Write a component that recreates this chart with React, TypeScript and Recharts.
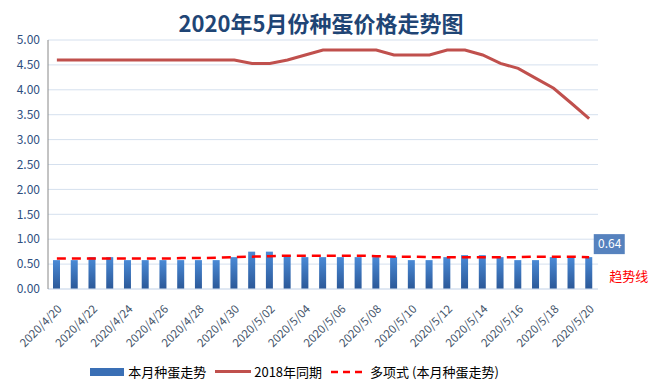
import {
  ComposedChart, Bar, Line, XAxis, YAxis, CartesianGrid, Legend, LabelList,
} from 'recharts'

const dates = [
  '2020/4/20', '2020/4/21', '2020/4/22', '2020/4/23', '2020/4/24', '2020/4/25', '2020/4/26',
  '2020/4/27', '2020/4/28', '2020/4/29', '2020/4/30', '2020/5/01', '2020/5/02', '2020/5/03',
  '2020/5/04', '2020/5/05', '2020/5/06', '2020/5/07', '2020/5/08', '2020/5/09', '2020/5/10',
  '2020/5/11', '2020/5/12', '2020/5/13', '2020/5/14', '2020/5/15', '2020/5/16', '2020/5/17',
  '2020/5/18', '2020/5/19', '2020/5/20',
]

const thisMonth = [
  0.58, 0.58, 0.64, 0.64, 0.58, 0.58, 0.58, 0.58, 0.58, 0.58, 0.64, 0.75, 0.75, 0.68, 0.64, 0.64,
  0.64, 0.64, 0.64, 0.64, 0.58, 0.58, 0.64, 0.68, 0.68, 0.64, 0.58, 0.58, 0.64, 0.64, 0.64,
]

const sameTime2018 = [
  4.6, 4.6, 4.6, 4.6, 4.6, 4.6, 4.6, 4.6, 4.6, 4.6, 4.6, 4.53, 4.53, 4.6, 4.7, 4.8,
  4.8, 4.8, 4.8, 4.7, 4.7, 4.7, 4.8, 4.8, 4.7, 4.53, 4.43, 4.23, 4.03, 3.73, 3.42,
]

// 多项式趋势线
const trend = [
  0.61, 0.61, 0.61, 0.61, 0.61, 0.61, 0.61, 0.62, 0.62, 0.63, 0.64, 0.65, 0.66, 0.67, 0.67, 0.67,
  0.67, 0.67, 0.66, 0.65, 0.65, 0.64, 0.64, 0.64, 0.64, 0.64, 0.64, 0.65, 0.65, 0.65, 0.64,
]

const yTicks = [0, 0.5, 1, 1.5, 2, 2.5, 3, 3.5, 4, 4.5, 5]

const FONT = '"Noto Sans CJK SC", "Noto Sans", sans-serif'
const LAST = dates.length - 1

const data = dates.map((d, i) => ({
  date: d,
  thisMonth: thisMonth[i],
  y2018: sameTime2018[i],
  trend: trend[i],
}))

function LastBarLabel(props: any) {
  const { x, y, width, value, index } = props
  if (index !== LAST) return null
  const cx = x + width / 2 + 20
  return (
    <g>
      <rect x={cx - 15} y={y - 23} width={31} height={20} fill="#5682be" />
      <text x={cx + 1} y={y - 9} fill="#fff" fontSize={12} textAnchor="middle" fontFamily={FONT}>
        {value.toFixed(2)}
      </text>
    </g>
  )
}

function TrendLabel(props: any) {
  const { x, y, index } = props
  if (index !== LAST) return null
  return (
    <text x={x + 20} y={y + 24} fill="#ff0000" fontSize={13} fontFamily={FONT}>
      趋势线
    </text>
  )
}

function LegendContent() {
  const item = { display: 'flex', alignItems: 'center', marginRight: 9 }
  return (
    <div style={{ display: 'flex', justifyContent: 'center', fontSize: 13, fontFamily: FONT, color: '#000', paddingLeft: 0 }}>
      <div style={item}>
        <span style={{ display: 'inline-block', width: 34, height: 8, background: '#3a6fb5', marginRight: 4 }} />
        本月种蛋走势
      </div>
      <div style={item}>
        <span style={{ display: 'inline-block', width: 36, height: 2.5, background: '#c0504d', marginRight: 3 }} />
        2018年同期
      </div>
      <div style={item}>
        <svg width={36} height={4} style={{ marginRight: 3 }}>
          <line x1={0} y1={2} x2={36} y2={2} stroke="#ff0000" strokeWidth={2.5} strokeDasharray="7 5" />
        </svg>
        多项式 (本月种蛋走势)
      </div>
    </div>
  )
}

export default function App() {
  return (
    <div style={{ position: 'relative', width: 652, height: 392, background: '#fff' }}>
      <style>{'body{margin:0}'}</style>
      <div
        style={{
          position: 'absolute', top: 6, left: 0, width: 642, textAlign: 'center',
          fontFamily: FONT, fontWeight: 700, fontSize: 22, color: '#1f4575', zIndex: 1,
        }}
      >
        2020年5月份种蛋价格走势图
      </div>
      <ComposedChart
        width={652}
        height={392}
        data={data}
        margin={{ top: 40, right: 54, bottom: 11, left: 0 }}
      >
        <defs>
          <linearGradient id="barGrad" x1="0" y1="0" x2="0" y2="1">
            <stop offset="0%" stopColor="#4a8ad6" />
            <stop offset="100%" stopColor="#2b5898" />
          </linearGradient>
        </defs>
        <CartesianGrid vertical={false} stroke="#d5e0ee" />
        <XAxis
          dataKey="date"
          interval={1}
          tickLine={false}
          axisLine={{ stroke: '#d5e0ee' }}
          height={73}
          tickMargin={9}
          angle={-45}
          textAnchor="end"
          tick={{ fill: '#44546a', fontSize: 11.5, fontFamily: FONT }}
        />
        <YAxis
          domain={[0, 5]}
          ticks={yTicks}
          width={48}
          tickLine={false}
          axisLine={{ stroke: '#888' }}
          tickFormatter={(v: number) => v.toFixed(2)}
          tick={{ fill: '#2f4f7f', fontSize: 12, fontFamily: FONT }}
        />
        <Legend verticalAlign="bottom" content={<LegendContent />} />
        <Bar dataKey="thisMonth" name="本月种蛋走势" fill="url(#barGrad)" barSize={7} isAnimationActive={false}>
          <LabelList dataKey="thisMonth" content={<LastBarLabel />} />
        </Bar>
        <Line
          dataKey="y2018"
          name="2018年同期"
          stroke="#c0504d"
          strokeWidth={3}
          dot={false}
          isAnimationActive={false}
        />
        <Line
          dataKey="trend"
          name="多项式 (本月种蛋走势)"
          stroke="#ff0000"
          strokeWidth={2.5}
          strokeDasharray="9 6"
          dot={false}
          isAnimationActive={false}
        >
          <LabelList dataKey="trend" content={<TrendLabel />} />
        </Line>
      </ComposedChart>
    </div>
  )
}
